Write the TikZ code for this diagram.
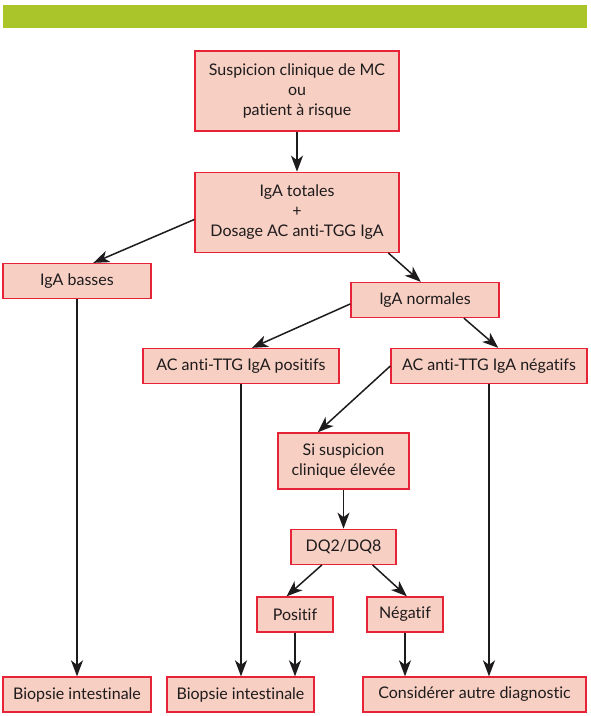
\documentclass[tikz,border=0pt]{standalone}
\usepackage{fontspec}
\setmainfont{Lato}[Ligatures=NoCommon]
\usepackage{tikz}
\usetikzlibrary{arrows.meta, positioning}
\definecolor{bargreen}{RGB}{170,197,42}
\definecolor{boxred}{RGB}{230,35,55}
\definecolor{boxfill}{RGB}{247,207,195}
\definecolor{inkgray}{RGB}{30,27,28}

\begin{document}
\begin{tikzpicture}[
  x=1pt, y=-1pt,
  % --- Box styles ---
  stepbox/.style={
    rectangle, draw=boxred, fill=boxfill, line width=1.3pt,
    align=center, font=\fontsize{16}{20}\selectfont, text=inkgray,
    inner sep=2pt, minimum height=35pt
  },
  tallbox/.style={stepbox, minimum height=80pt},
  % --- Arrows ---
  flow/.style={-{Stealth[length=16pt, width=12pt, inset=4.5pt]},
    line width=1.5pt, color=inkgray},
]
\useasboundingbox (0,0) rectangle (590,716);

% ===================== TOP BAR =====================
\fill[bargreen] (3,5) rectangle (587,28);

% ===================== TOP =====================
\node[tallbox, minimum width=204pt] (susp) at (297,91)
  {Suspicion clinique de MC\\ ou\\ patient à risque};

\node[tallbox, minimum width=204pt, below=40pt of susp] (totales)
  {IgA totales\\ +\\ Dosage AC anti-TGG IgA};

% ===================== IgA LEVEL =====================
\node[stepbox, minimum width=148pt] (basses) at (77,281) {IgA basses};
\node[stepbox, minimum width=148pt] (normales) at (425,300) {IgA normales};

% ===================== ANTI-TTG =====================
\node[stepbox, minimum width=196pt] (positifs) at (241,366)
  {AC anti-TTG IgA positifs};
\node[stepbox, minimum width=196pt] (negatifs) at (489,366)
  {AC anti-TTG IgA négatifs};

% ===================== HLA =====================
\node[stepbox, minimum width=131pt, minimum height=56pt] (sisusp) at (343.5,461)
  {Si suspicion\\ clinique élevée};
\node[stepbox, minimum width=105pt, below=39pt of sisusp] (dq) {DQ2/DQ8};

\node[stepbox, minimum width=76pt] (pos) at (295,614.5) {Positif};
\node[stepbox, minimum width=76pt] (neg) at (405,614.5) {Négatif};

% ===================== OUTCOMES =====================
\node[stepbox, minimum width=148pt] (biop1) at (77,694.5) {Biopsie intestinale};
\node[stepbox, minimum width=147pt] (biop2) at (240.5,694.5) {Biopsie intestinale};
\node[stepbox, minimum width=223pt] (autre) at (474.5,694.5)
  {Considérer autre diagnostic};

% ================ ARROWS ================
\draw[flow] (susp.south) -- (totales.north);
\draw[flow] (totales.184) -- (basses.48);
\draw[flow] (totales.336) -- (normales.103);
\draw[flow] (normales.183) -- (positifs.59);
\draw[flow] (normales.335) -- (negatifs.63);
\draw[flow] (negatifs.west) -- (sisusp.132);
\draw[flow] (sisusp.south) -- (dq.north);
\draw[flow] (dq.220) -- (pos.115);
\draw[flow] (dq.328) -- (neg.84);

\draw[flow] (basses.south) -- (biop1.north);
\draw[flow] (positifs.south) -- (positifs.south |- biop2.north);
\draw[flow] (pos.south) -- (pos.south |- biop2.north);
\draw[flow] (neg.south) -- (neg.south |- autre.north);
\draw[flow] (negatifs.south) -- (negatifs.south |- autre.north);

\end{tikzpicture}
\end{document}
